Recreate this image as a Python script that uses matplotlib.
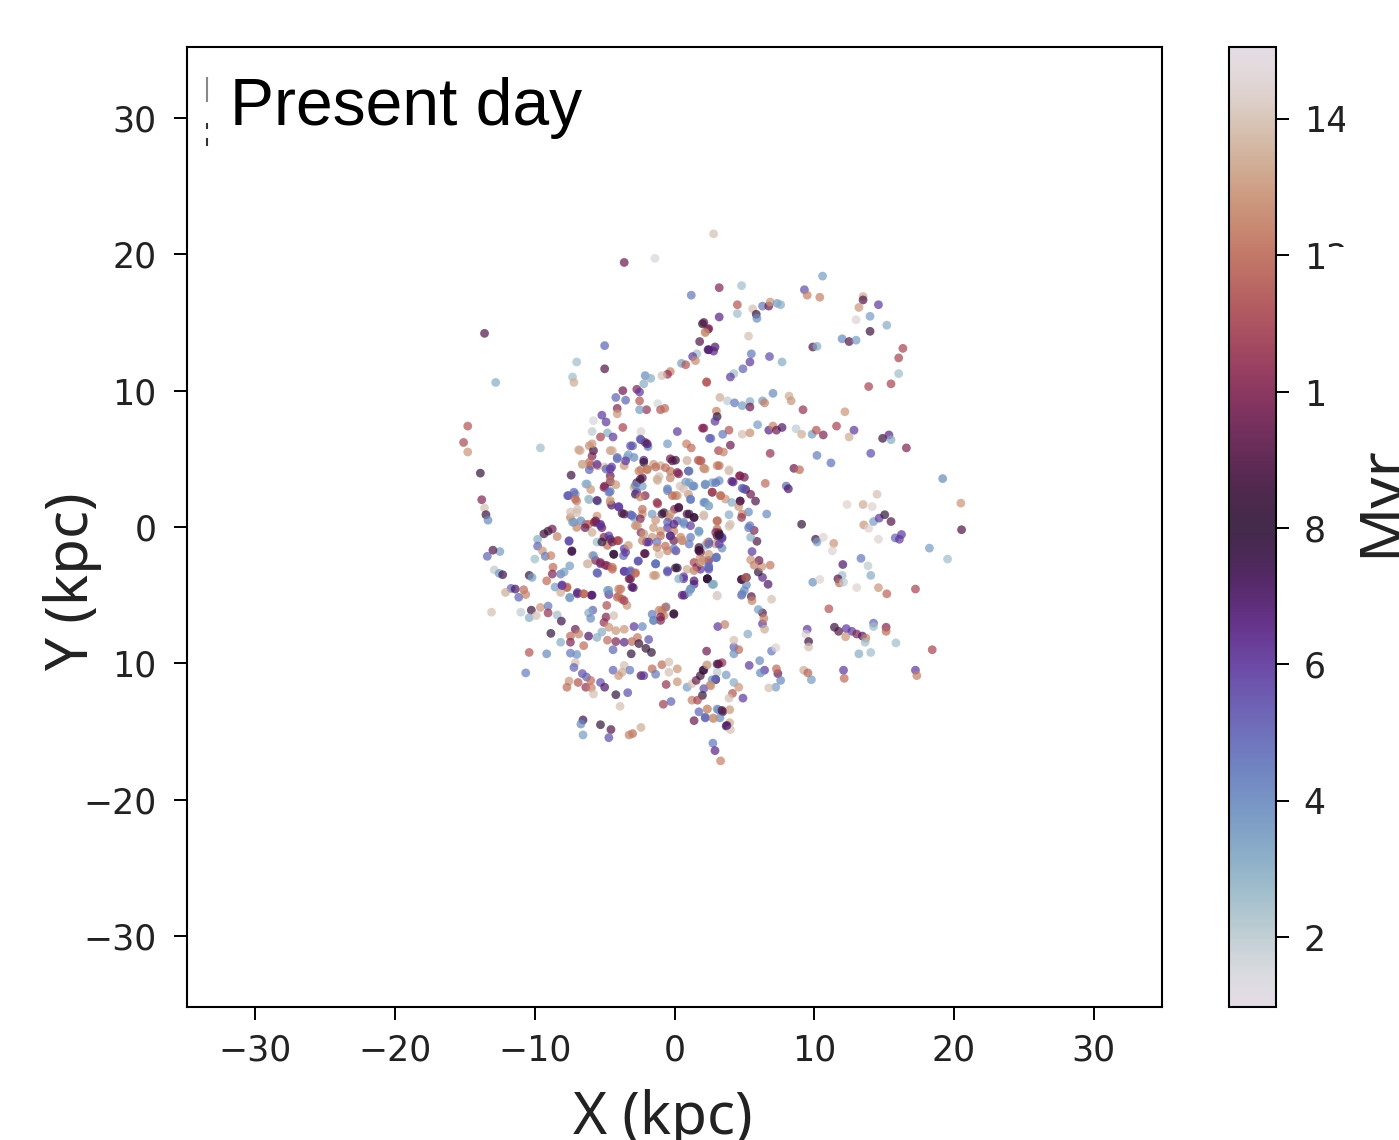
import matplotlib
matplotlib.use("Agg")
import matplotlib.pyplot as plt
from matplotlib.cm import ScalarMappable
from matplotlib.colors import Normalize
from matplotlib.lines import Line2D
from matplotlib.patches import Rectangle

# star clusters: (x kpc, y kpc, age Myr)
north_west = [
    (-3.6, 19.4, 9.5), (-1.4, 19.7, 1.5), (1.2, 17.0, 4.5), (-13.6, 14.2, 9), (2.0, 14.9, 8), (2.4, 14.5, 9.5),
    (2.2, 14.3, 12.5), (1.8, 13.6, 9), (2.4, 13.0, 7), (-5.0, 13.3, 5), (-7.0, 12.1, 2.5), (-5.0, 11.6, 9),
    (-7.3, 11.0, 2.5), (-7.2, 10.6, 13.5), (-12.8, 10.6, 3), (1.6, 12.7, 2.5), (1.3, 12.5, 6), (1.5, 12.2, 12.7),
    (0.5, 12.0, 3.5), (0.8, 11.9, 11.5), (-0.3, 11.4, 12.5), (-0.5, 11.2, 10.5), (-0.9, 11.1, 14), (-2.1, 11.1, 4),
    (-1.7, 10.9, 3), (-2.2, 10.5, 3), (2.3, 10.6, 11.5), (-2.7, 10.1, 10), (-2.5, 9.9, 6), (-3.7, 10.0, 9.5),
    (-4.2, 9.5, 5), (-3.5, 9.3, 5), (-2.5, 9.25, 11.5), (-1.2, 9.05, 1.5), (-4.1, 8.7, 10), (-2.0, 8.6, 10.5),
    (-1.0, 8.6, 11.5), (-0.7, 8.7, 12), (-2.5, 8.6, 3.5), (-4.1, 8.3, 13), (-5.2, 8.2, 6), (-4.9, 7.7, 6),
    (-5.8, 7.8, 1.5), (-3.7, 7.3, 11), (2.0, 7.25, 10), (-4.8, 6.9, 3), (-5.9, 7.0, 2), (-2.4, 7.0, 14.5),
    (0.2, 7.0, 6), (-4.4, 6.6, 6), (-5.3, 6.6, 11), (-2.4, 6.4, 6), (-2.1, 6.2, 9.5), (-1.9, 5.9, 4.5),
    (-0.5, 6.1, 3.5), (-9.6, 5.8, 2.5), (2.5, 6.5, 5), (0.86, 6.1, 12.5), (1.2, 5.8, 12), (-14.8, 7.4, 11.5),
    (-15.1, 6.2, 11.2), (-14.8, 5.5, 13), (-13.9, 3.95, 8), (-13.8, 2.0, 10), (-13.6, 1.4, 14),
    (-6.85, 5.66, 13), (-6.1, 5.95, 12.7), (-5.8, 5.6, 8.5), (-5.9, 5.2, 10), (-6.6, 4.6, 13.5), (-6.0, 4.5, 12),
    (-5.5, 4.5, 12.5), (-6.1, 4.2, 5), (-4.6, 5.6, 13), (-4.5, 4.4, 6), (-5.0, 4.4, 14), (-4.1, 5.1, 5),
    (-3.6, 4.5, 13), (-3.0, 5.95, 5), (-3.3, 5.3, 3.5), (-2.9, 5.1, 4), (-2.2, 4.9, 6.5), (-2.4, 4.2, 12.5),
    (-1.96, 4.2, 12), (-1.5, 4.6, 13), (-1.0, 4.5, 13.5), (-0.3, 5.0, 9.5), (0.07, 4.9, 8.5), (-0.3, 4.1, 12.3),
    (0.3, 3.9, 10), (0.9, 4.9, 14), (1.7, 4.9, 11.5), (1.0, 4.1, 7), (2.1, 4.3, 13), (-7.4, 3.8, 8.5),
    (-4.6, 3.75, 9.5), (-2.3, 3.6, 9.5), (-1.1, 3.7, 14), (-6.25, 3.15, 3), (-6.0, 2.75, 13), (-5.0, 3.0, 10),
    (-4.6, 3.3, 7), (-4.2, 3.1, 13), (-4.6, 2.6, 4.5), (-2.9, 2.9, 13.5), (-2.7, 3.25, 9), (-2.3, 3.0, 3.5),
    (-2.8, 2.4, 8), (-2.1, 2.3, 10), (-1.2, 3.4, 14), (-0.5, 2.8, 4.5), (0.07, 2.3, 12.5), (0.4, 3.0, 14),
    (0.8, 3.3, 3.5), (1.3, 3.0, 4), (1.0, 2.4, 13), (1.15, 2.0, 4), (0.3, 1.4, 9), (-1.2, 1.7, 11),
    (-7.6, 2.3, 6), (-7.1, 2.4, 3.5), (-7.0, 1.9, 12.5), (-6.1, 2.0, 2.5), (-5.5, 1.9, 3.5), (-4.6, 1.8, 13),
    (-4.5, 1.6, 7), (-4.0, 1.5, 6), (2.2, 1.8, 3),
]

north_east = [
    (2.8, 21.5, 14), (3.2, 17.55, 10), (4.8, 17.7, 2.5), (4.5, 16.3, 11.5), (4.5, 15.65, 2.5), (3.2, 15.4, 6.5),
    (5.6, 16.0, 14), (5.85, 15.6, 8), (5.9, 15.3, 4), (6.3, 16.2, 4.5), (6.75, 16.2, 9.5), (6.85, 16.5, 13),
    (7.35, 16.4, 3.5), (7.6, 16.3, 3), (9.3, 17.4, 5.5), (9.5, 17.0, 12.5), (10.4, 16.85, 12.5), (10.6, 18.4, 3.5),
    (13.5, 16.9, 13.5), (13.5, 16.65, 9), (13.2, 16.1, 13), (14.6, 16.3, 6), (14.0, 15.45, 3.5), (13.0, 15.2, 14.5),
    (15.2, 14.8, 3), (14.0, 14.35, 8.5), (12.0, 13.8, 4), (12.5, 13.6, 9), (13.0, 13.7, 3.5), (9.9, 13.2, 9),
    (10.2, 13.25, 3), (16.35, 13.1, 11), (16.05, 12.4, 11), (16.05, 11.25, 2.5), (15.5, 10.5, 11), (13.9, 10.3, 11),
    (5.3, 14.0, 14), (2.1, 15.0, 9), (2.45, 14.55, 10), (2.2, 14.25, 13), (2.45, 13.0, 7), (2.9, 13.2, 7),
    (2.8, 12.9, 6.5), (5.5, 12.7, 4.5), (6.8, 12.5, 5.5), (5.4, 12.1, 6), (7.7, 12.1, 3), (4.9, 11.6, 5),
    (4.25, 11.25, 2.5), (4.0, 11.0, 6), (2.3, 10.65, 11.5), (3.25, 9.5, 13.5), (3.8, 9.25, 2), (4.3, 9.1, 4.5),
    (4.85, 8.9, 3.5), (5.4, 9.2, 3), (5.4, 8.8, 9.5), (6.3, 9.25, 3.5), (6.45, 9.1, 12.5), (7.05, 9.8, 4),
    (8.2, 9.6, 13.5), (8.35, 9.25, 13), (9.2, 8.6, 10.5), (12.2, 8.45, 13), (3.0, 8.5, 12.5), (3.05, 8.1, 8),
    (2.9, 7.75, 6), (2.1, 7.25, 10), (3.9, 7.1, 11.5), (3.45, 6.8, 4.5), (2.6, 6.5, 5), (4.85, 6.8, 14),
    (5.4, 6.9, 12.8), (5.95, 7.5, 3.5), (6.75, 7.1, 6.5), (7.05, 7.4, 12.5), (7.3, 7.1, 9.5), (7.7, 7.3, 7),
    (8.7, 7.2, 2), (9.1, 6.8, 13.5), (9.85, 6.8, 3.5), (10.15, 7.1, 11.5), (10.65, 6.75, 10), (11.6, 7.4, 11),
    (12.85, 7.1, 6), (12.5, 6.6, 13.5), (14.9, 6.5, 8.5), (15.35, 6.75, 6.5), (15.5, 6.4, 3), (16.6, 5.8, 10),
    (14.05, 5.4, 5.5), (6.85, 5.4, 10.5), (10.2, 5.25, 4.3), (11.2, 4.7, 4.7), (4.0, 6.0, 9.5), (3.15, 5.6, 11),
    (3.5, 5.5, 12.5), (1.9, 4.85, 11), (2.1, 4.3, 13), (3.05, 4.5, 12.5), (3.9, 4.2, 14), (8.55, 4.3, 9.5),
    (8.95, 4.2, 12), (19.2, 3.55, 4), (4.65, 3.75, 10), (5.0, 3.65, 9.5), (4.2, 3.3, 6.5), (6.5, 3.2, 12),
    (8.0, 3.0, 5), (8.15, 2.8, 7), (2.2, 3.1, 5), (2.7, 3.25, 3.5), (3.2, 3.4, 4), (4.85, 2.85, 5),
    (5.1, 2.75, 9), (2.7, 2.55, 9.5), (3.3, 2.3, 12.5), (3.65, 2.05, 13), (4.7, 1.9, 9), (5.8, 1.9, 9),
    (5.45, 2.4, 9.5), (4.1, 1.8, 3), (2.2, 1.8, 3), (2.45, 1.55, 3), (14.5, 2.4, 14), (12.35, 1.65, 14.5),
    (13.5, 1.65, 13.5), (14.15, 1.5, 14.5), (20.5, 1.75, 13), (4.6, 1.5, 13),
]

south_east = [
    (9.1, 0.2, 8), (13.55, 0.15, 13), (13.9, -0.1, 14.5), (14.25, 0.4, 3.5), (14.65, 0.65, 6), (15.05, 0.9, 8),
    (15.5, 0.4, 9), (20.55, -0.2, 9), (10.1, -0.9, 8.5), (10.65, -0.75, 14.5), (10.2, -1.1, 3.5), (11.4, -1.2, 13),
    (11.3, -1.75, 14.5), (14.6, -0.9, 14.5), (15.8, -0.8, 5), (16.1, -0.9, 6), (16.25, -0.55, 6), (18.25, -1.55, 3.5),
    (19.55, -2.35, 2.5), (13.35, -2.3, 4.5), (12.05, -2.75, 7), (13.85, -2.85, 2), (14.05, -3.55, 3), (12.0, -3.55, 2.5),
    (11.7, -3.8, 9), (11.8, -4.1, 12), (12.1, -4.05, 2), (9.9, -4.05, 3.8), (10.4, -3.85, 14.5), (13.05, -4.45, 14.5),
    (14.6, -4.45, 13), (15.2, -4.9, 11.8), (17.25, -4.55, 11), (11.05, -6.0, 11.5), (11.45, -7.35, 8.5), (11.75, -7.65, 9),
    (12.3, -7.45, 6), (12.7, -7.65, 6), (12.25, -8.05, 13), (13.05, -7.85, 10), (13.45, -8.0, 7), (13.7, -8.15, 12.5),
    (13.65, -8.45, 2.5), (14.25, -7.05, 5), (14.25, -7.3, 2.5), (15.15, -7.35, 10), (15.15, -7.65, 12), (15.85, -8.5, 2.5),
    (13.2, -9.3, 3), (14.05, -9.2, 2.5), (18.45, -9.0, 11), (9.5, -7.5, 6), (9.4, -7.85, 14.5), (9.6, -8.4, 8.5),
    (9.6, -8.8, 14), (12.1, -10.5, 6), (12.15, -11.1, 12), (17.25, -10.5, 6), (17.35, -10.9, 12.5), (9.25, -10.5, 13.5),
    (9.55, -10.7, 11.8), (9.8, -11.2, 3.5), (7.4, -10.75, 9.5), (7.6, -11.25, 4), (7.25, -11.75, 3.5), (6.75, -11.8, 14),
    (7.3, -10.4, 12), (6.45, -10.5, 6), (6.15, -10.7, 4), (6.1, -9.8, 4), (5.35, -10.15, 6), (6.95, -9.1, 4.5),
    (7.25, -8.85, 14.5), (5.25, -7.85, 3), (4.25, -8.8, 5), (4.6, -9.0, 12), (4.25, -9.3, 3.8), (4.25, -8.3, 14),
    (2.3, -9.1, 9.5), (3.1, -7.3, 6), (3.6, -7.15, 12.5), (6.3, -7.1, 6), (6.3, -6.3, 9), (6.0, -6.05, 3.5),
    (6.4, -6.7, 12.5), (6.45, -7.5, 13.5), (5.5, -5.1, 9), (5.55, -5.4, 12.5), (6.95, -5.3, 14), (4.8, -3.85, 9),
    (5.15, -3.7, 8.5), (5.15, -4.25, 4), (5.0, -4.65, 4), (4.8, -5.0, 5), (6.3, -3.7, 6.5), (6.0, -3.3, 8),
    (6.7, -4.2, 7), (6.85, -2.8, 12.3), (6.25, -2.9, 13), (5.45, -2.4, 13), (6.05, -2.45, 9.5), (5.7, -2.8, 12.5),
    (5.55, -1.8, 6), (5.9, -1.05, 9), (5.45, -0.75, 3), (5.7, -0.25, 10), (5.4, 0.1, 4.5), (6.6, 0.95, 4),
    (5.3, 1.1, 4), (4.85, 0.95, 12.5), (4.8, 0.7, 10.5), (3.9, 0.9, 3), (3.9, 0.05, 14), (3.1, 0.45, 14),
    (2.1, 0.9, 14.5), (3.15, -0.4, 8.5), (3.05, -0.15, 12), (3.4, -0.85, 5.5), (2.95, -1.25, 13), (2.45, -1.1, 6),
    (2.2, -1.35, 3), (3.4, -1.55, 4), (1.86, -1.85, 9.5), (3.0, -2.2, 4.5), (2.45, -2.45, 10), (2.05, -2.45, 12.5),
    (2.45, -3.1, 5.5), (1.86, -3.1, 6), (2.35, -3.8, 8), (2.75, -4.2, 3), (3.05, -5.05, 14.5), (2.3, -10.15, 13),
    (2.1, -10.5, 9), (3.05, -10.05, 9), (3.4, -9.95, 10.5), (3.05, -10.65, 2), (3.7, -10.85, 3.5), (2.95, -11.2, 8.5),
    (2.7, -11.2, 4), (2.55, -11.6, 12.5), (2.1, -11.85, 5.5), (2.0, -12.35, 8), (4.25, -11.4, 3), (4.6, -11.75, 13),
    (4.15, -12.2, 11.5), (3.9, -12.55, 14), (4.9, -12.55, 6), (2.35, -13.35, 13), (3.15, -13.4, 4), (3.45, -13.55, 8.5),
    (3.95, -13.4, 13), (2.2, -13.95, 4.5), (2.75, -14.0, 13), (3.25, -14.0, 4), (3.95, -14.35, 13.5), (3.7, -14.6, 7),
    (4.0, -14.85, 14), (2.75, -15.85, 4.5), (2.9, -16.4, 6.5), (3.3, -17.15, 12.5),
]

south_west = [
    (-13.5, 0.9, 8.5), (-13.35, 0.5, 4), (-12.5, -1.8, 3.5), (-13.0, -1.7, 9), (-13.4, -2.15, 5), (-12.9, -3.15, 2),
    (-12.55, -3.4, 3.5), (-12.3, -3.5, 7.5), (-10.4, -3.55, 8), (-10.2, -3.7, 3.5), (-11.7, -4.5, 5), (-12.1, -4.8, 13.5),
    (-11.4, -4.55, 7), (-10.8, -4.6, 12), (-11.15, -5.15, 5), (-10.65, -4.95, 12.5), (-13.1, -6.25, 14), (-10.25, -6.1, 8.5),
    (-9.6, -5.9, 13), (-9.05, -5.8, 4.5), (-9.05, -6.3, 10.5), (-10.4, -6.65, 3), (-11.0, -6.25, 2), (-9.9, -6.5, 14),
    (-8.4, -6.45, 2.5), (-8.1, -6.9, 7.5), (-8.85, -7.8, 8), (-8.15, -8.45, 3), (-10.4, -9.2, 11.5), (-9.15, -9.3, 4),
    (-10.65, -10.7, 4.3), (-9.05, -0.3, 8), (-9.35, -0.5, 8.5), (-8.75, -0.15, 9.5), (-8.4, -0.7, 12.5), (-9.8, -0.9, 3),
    (-9.8, -1.4, 5), (-9.45, -1.75, 13), (-9.25, -2.15, 4.5), (-8.85, -2.1, 12.5), (-10.0, -2.35, 2.5), (-7.55, -1.05, 6),
    (-7.35, -1.75, 8), (-8.7, -2.95, 12), (-8.15, -3.45, 4.5), (-7.5, -2.85, 3.5), (-8.75, -3.45, 10), (-9.15, -3.95, 12),
    (-8.55, -4.4, 3.5), (-7.7, -4.45, 11.8), (-8.05, -4.25, 6), (-8.15, -4.8, 13.5), (-7.5, -5.2, 3.5), (-6.95, -4.9, 6.5),
    (-6.5, -4.9, 12), (-5.95, -5.0, 7), (-4.8, -4.65, 3.5), (-4.7, -4.95, 6), (-3.85, -4.55, 12), (-4.0, -5.05, 12.5),
    (-3.75, -5.3, 11.5), (-2.95, -4.45, 7), (-3.4, -5.75, 13), (-4.85, -5.75, 11.3), (-5.85, -6.1, 5), (-6.15, -6.3, 3),
    (-6.0, -6.7, 4), (-4.9, -6.6, 10), (-5.05, -7.0, 10.5), (-4.35, -6.5, 14), (-1.6, -6.4, 4.5), (-1.5, -6.85, 3.8),
    (-0.9, -6.15, 12.5), (-0.75, -6.5, 12.5), (-0.6, -5.85, 4), (-0.05, -6.4, 8.5), (-1.0, -6.85, 10), (-7.1, -7.5, 9.5),
    (-7.45, -8.0, 12), (-6.85, -7.85, 12.5), (-6.15, -8.0, 7), (-5.55, -8.1, 3), (-5.2, -7.7, 3), (-4.7, -7.35, 13),
    (-4.2, -7.6, 13), (-3.6, -7.5, 13), (-2.9, -7.3, 6), (-2.3, -7.3, 4), (-6.5, -8.7, 12), (-7.45, -8.45, 10),
    (-7.45, -9.25, 4.5), (-7.0, -9.35, 3.8), (-7.1, -9.95, 14), (-7.2, -10.3, 5), (-4.8, -8.3, 12), (-4.2, -8.4, 10),
    (-3.6, -8.45, 6.5), (-3.05, -8.4, 12), (-2.65, -8.1, 12.3), (-2.55, -8.55, 8.5), (-2.05, -8.9, 8), (-1.85, -8.25, 5.5),
    (-1.65, -9.2, 8), (-3.1, -9.3, 8), (-4.4, -9.0, 5), (-3.6, -10.15, 14), (-4.4, -10.5, 5), (-3.2, -10.5, 4.5),
    (-3.75, -10.65, 13.5), (-4.0, -10.9, 13), (-2.4, -10.9, 9), (-2.2, -10.9, 6), (-1.6, -10.4, 12), (-0.9, -10.1, 12),
    (-0.4, -9.9, 14), (0.2, -10.4, 13), (-1.35, -10.8, 4.5), (-0.6, -11.55, 10.5), (0.2, -11.35, 13), (-0.4, -10.65, 14),
    (-7.55, -11.3, 13), (-7.7, -11.75, 12), (-6.9, -11.4, 11.5), (-6.6, -10.75, 5.5), (-6.3, -11.0, 5), (-6.35, -11.75, 10.5),
    (-5.95, -11.8, 12.5), (-6.0, -11.25, 12), (-5.3, -11.4, 5.5), (-5.0, -11.75, 7), (-5.8, -12.25, 14), (-4.2, -12.3, 8),
    (-3.35, -12.15, 5.5), (-3.9, -13.15, 14), (-0.8, -13.0, 10.8), (-0.25, -12.8, 5), (-6.55, -14.15, 7.5), (-6.7, -14.45, 4),
    (-6.55, -15.25, 3.5), (-5.3, -14.5, 8), (-4.55, -14.85, 9), (-4.7, -15.45, 5.5), (-3.0, -15.15, 12), (-2.4, -14.7, 13.5),
    (-3.25, -15.25, 12.5), (0.9, -11.75, 3.5), (1.25, -11.5, 14), (1.55, -11.25, 9.5), (1.85, -10.9, 8.5), (2.05, -10.5, 8),
    (2.35, -10.1, 13.5), (3.15, -10.05, 9), (2.95, -11.15, 5), (2.6, -11.65, 13), (1.25, -12.7, 12.5), (1.65, -12.7, 11),
    (1.75, -13.55, 5), (2.35, -13.35, 13), (1.4, -14.2, 9.5), (2.2, -14.0, 5), (2.8, -14.05, 13), (3.75, -14.55, 7),
    (3.05, -13.35, 3.8), (3.4, -13.45, 9),
]

core = [
    (-7.2, 0.35, 3.5), (-7.45, 0.7, 12.5), (-7.0, -0.03, 12.5), (-6.35, 0.2, 12), (-5.65, 0.35, 6.5), (-5.55, 0.8, 13),
    (-7.0, 1.05, 14), (-5.9, -0.4, 13.5), (-5.2, -0.05, 9.5), (-5.05, -0.75, 10), (-4.6, -0.9, 8.5), (-4.1, -1.0, 11),
    (-4.8, -1.35, 12), (-5.55, -1.1, 2.5), (-3.6, -1.6, 6), (-4.35, -2.0, 8), (-3.65, -2.1, 5), (-5.9, -2.1, 14),
    (-5.65, -2.45, 10), (-5.3, -2.7, 6), (-4.8, -2.85, 10.5), (-4.45, -3.1, 12), (-6.2, -2.7, 13.5), (-5.55, -3.35, 5),
    (-3.6, -3.25, 5.5), (-3.15, -3.2, 5), (-2.8, -3.35, 12.5), (-3.15, -3.8, 9.5), (-3.75, 1.0, 8), (-3.15, 0.9, 4.5),
    (-2.3, 0.95, 13), (-2.8, 0.1, 12.5), (-2.4, -0.4, 10), (-2.9, 0.7, 3.5), (-2.0, -1.1, 7), (-2.3, -1.0, 12.5),
    (-1.6, -0.75, 13), (-1.25, -1.1, 4.5), (-0.9, 0.95, 8.5), (-0.4, 0.7, 12.5), (0.0, 1.3, 10), (0.9, 0.95, 9),
    (1.4, 0.7, 9), (0.2, 0.45, 5), (-0.5, -0.05, 6), (-1.0, -0.3, 13), (-0.05, -0.3, 12.5), (0.7, 0.2, 3.5),
    (1.15, 0.1, 6), (-0.05, -1.0, 9.5), (-0.65, -1.4, 12), (0.55, -1.0, 12), (0.1, -1.75, 6), (-2.1, -1.95, 9),
    (-2.6, -2.5, 5), (-1.35, -2.7, 3.5), (-1.5, -3.55, 13), (-0.5, -3.2, 5), (0.2, -3.0, 8), (0.9, -3.1, 13.5),
    (0.65, -3.8, 6), (1.75, -0.4, 2.5), (1.75, -1.7, 9), (1.85, -2.25, 13), (2.45, -2.0, 13), (2.95, -2.25, 4.5),
    (3.05, -0.65, 8.5), (2.35, -1.15, 13), (1.4, -2.6, 11), (2.45, -2.95, 5.5), (1.6, -2.95, 10), (2.35, -3.8, 8),
    (1.4, -4.2, 6), (1.15, -4.55, 4.5), (0.7, -5.0, 7), (1.0, -4.8, 3.5), (2.7, -4.2, 3), (3.05, -5.05, 14.5),
    (3.05, 0.45, 13), (2.1, 0.85, 14), (1.75, -0.3, 3), (-1.1, -2.0, 14),
]

# second pass over the crowded middle
core_upper = [
    (-6.75, 5.6, 13.5), (-5.9, 6.1, 13), (-6.1, 4.75, 12), (-6.6, 4.6, 13.5), (-5.55, 4.6, 6), (-4.45, 5.6, 13.5),
    (-4.1, 5.0, 4.5), (-3.4, 5.1, 3), (-3.15, 5.95, 5.5), (-3.5, 4.85, 6), (-1.95, 6.1, 7), (-2.45, 6.45, 5),
    (-2.2, 4.75, 8), (-1.95, 4.25, 12.5), (-2.55, 4.1, 12.5), (-1.35, 4.4, 12), (-2.45, 3.5, 8.5), (-2.7, 2.55, 6),
    (-2.8, 3.05, 4), (-2.45, 2.2, 12.5), (-1.25, 3.5, 13.5), (-5.05, 2.9, 10), (-4.6, 3.4, 12.5), (-4.7, 2.55, 4.5),
    (-4.6, 1.95, 13), (-4.9, 4.25, 5), (-4.6, 4.25, 6), (-7.2, 2.55, 5), (-7.65, 2.3, 5), (-7.1, 2.05, 12),
    (-6.15, 2.05, 2.5), (-5.55, 1.95, 7), (-6.35, 3.15, 3), (-3.98, 1.45, 6), (-3.6, 0.95, 9), (-3.05, 0.85, 5),
    (-2.3, 1.3, 12), (-2.45, 0.6, 10), (-1.6, 0.95, 3.5), (-1.35, 0.5, 13), (-7.45, 1.1, 14), (-6.7, 0.45, 4),
    (-7.3, 0.35, 3.5), (-5.65, 0.45, 9.5), (-5.3, 0.2, 6.5), (-6.15, 0.2, 12), (-6.95, 1.3, 14),
    (-0.15, 4.85, 9), (-0.65, 4.35, 12), (0.2, 4.0, 10), (-0.3, 3.6, 12.5), (0.9, 4.85, 14), (1.8, 4.85, 12),
    (3.2, 4.5, 12), (3.9, 4.1, 14), (2.2, 4.25, 13), (1.05, 4.1, 4), (4.7, 3.75, 10), (4.1, 3.35, 6.5),
    (1.4, 3.0, 4), (1.05, 3.25, 3.5), (2.95, 3.25, 4.5), (2.2, 3.15, 3.5), (-0.5, 2.65, 4), (0.2, 2.3, 13),
    (0.65, 2.8, 14), (1.15, 2.05, 4.5), (-0.15, 2.3, 12), (2.7, 2.55, 11), (3.3, 2.3, 12), (4.7, 1.9, 9),
    (4.95, 2.8, 5), (-1.25, 1.8, 10.5), (2.1, 1.8, 4), (2.45, 1.55, 3), (0.3, 1.45, 8.5), (1.05, 0.95, 8.5),
    (1.4, 0.7, 8), (-0.75, 1.05, 8), (-0.3, 0.95, 13), (0.65, 0.35, 4), (-0.5, 0.35, 5), (-0.05, 0.2, 6.5),
    (-1.5, -0.05, 13), (3.05, 0.45, 12), (2.1, 0.8, 14), (3.2, -0.5, 8), (3.4, -0.75, 6), (2.95, -0.4, 10),
    (1.75, -0.3, 3.5), (-0.3, -0.65, 9), (-1.0, -0.65, 12), (0.45, -0.75, 12.5), (1.15, -0.75, 4.5), (5.3, -0.05, 4.5),
    (1.75, -1.5, 8.5), (4.0, 0.2, 14),
]

core_lower = [
    (-7.55, -1.0, 5.5), (-7.35, -1.8, 7.5), (-6.4, -0.05, 9.5), (-5.75, 0.35, 10), (-5.3, 0.1, 6), (-4.7, -0.65, 6),
    (-5.2, -1.1, 8), (-4.45, -1.1, 9.5), (-4.0, -1.0, 11), (-4.35, -2.0, 8), (-3.5, -1.85, 6), (-3.3, -1.35, 13),
    (-2.65, 0.1, 13), (-2.2, -0.5, 13), (-1.85, -1.1, 6), (-2.15, -1.95, 9), (-2.6, -2.5, 5.5), (-1.35, -2.7, 5),
    (-5.3, -2.6, 10), (-5.8, -2.1, 4), (-4.95, -2.8, 10), (-4.45, -2.95, 12), (-5.5, -3.4, 5), (-3.6, -3.25, 6),
    (-3.15, -3.3, 5), (-3.25, -3.8, 9.5), (-2.8, -3.4, 12), (-6.25, -2.7, 14), (-4.7, -4.65, 3.5), (-4.0, -4.55, 12.5),
    (-4.1, -5.15, 12), (-3.6, -5.4, 11), (-3.05, -4.4, 7), (-5.9, -5.0, 7), (-6.95, -4.8, 6.5), (-6.5, -4.9, 12),
    (-7.7, -4.4, 12), (-8.05, -4.3, 6), (-7.5, -5.15, 3.5), (-7.9, -3.3, 3.5),
    (3.2, -0.6, 8), (3.2, -1.25, 6), (1.75, -1.75, 8.5), (1.05, -1.25, 4.5), (2.45, -1.25, 5), (-0.3, -0.65, 6),
    (-0.05, -1.6, 4.5), (-0.5, -1.75, 12.5), (-1.25, -1.5, 12.5), (0.55, -1.0, 13), (-1.35, -2.7, 4.5), (0.07, -3.0, 8),
    (-0.5, -3.3, 5.5), (1.4, -3.2, 12.5), (1.85, -2.6, 13), (2.45, -2.85, 4.5), (3.0, -2.25, 4.5), (2.35, -3.8, 8),
    (0.65, -3.65, 6), (0.3, -3.8, 3), (1.4, -3.95, 7), (-1.35, -3.55, 13), (1.15, -4.55, 3.5), (0.55, -5.0, 6.5),
    (2.8, -4.2, 3), (3.05, -5.0, 14.5), (4.8, -3.85, 8.5), (5.1, -3.7, 12), (4.85, -4.9, 4), (-1.5, -6.85, 4),
    (-0.65, -5.9, 12), (-1.1, -6.1, 12.5), (-1.0, -6.6, 10), (-0.05, -6.35, 8),
]

ticks_pos = [-30, -20, -10, 0, 10, 20, 30]
# the -10 on the Y axis has lost its minus in the reference
y_tick_labels = ["\u221230", "\u221220", "10", "0", "10", "20", "30"]
cbar_ticks = [2, 4, 6, 8, 10, 12, 14]

W, H = 1399, 1140


def box(x0, y0, x1, y1):
    # pixel box (y from top) to figure fractions
    return [x0 / W, 1 - y1 / H, (x1 - x0) / W, (y1 - y0) / H]


stars = north_west + north_east + south_east + south_west + core + core_upper + core_lower
x_kpc, y_kpc, age_myr = zip(*stars)

fig = plt.figure(figsize=(W / 100, H / 100), dpi=100)
ax = fig.add_axes(box(187, 47, 1162, 1007))
norm = Normalize(vmin=0.98, vmax=15.05)
ax.scatter(x_kpc, y_kpc, c=age_myr, cmap="twilight", norm=norm, s=40, marker="o", alpha=0.7, linewidths=0)
ax.set_xlim(-34.9, 34.9)
ax.set_ylim(-35.2, 35.2)
ax.set_xticks(ticks_pos)
ax.set_yticks(ticks_pos)
ax.set_yticklabels(y_tick_labels)
ax.tick_params(length=9.5, width=1.4, labelsize=25, labelcolor="#222222")
ax.tick_params(axis="x", pad=9.5)
ax.tick_params(axis="y", pad=12.5)
for spine in ax.spines.values():
    spine.set_linewidth(1.5)

cax = fig.add_axes(box(1229, 47, 1276, 1007))
cbar = fig.colorbar(ScalarMappable(norm=norm, cmap="twilight"), cax=cax, alpha=0.9)
cbar.set_ticks(cbar_ticks)
cax.tick_params(length=9.5, width=1.4, labelsize=25, pad=10.5, labelcolor="#222222")
cbar.outline.set_linewidth(1.5)

# white boxes pasted over the old labels in the source figure
for x0, y0, x1, y1 in [(1345, 90, 1399, 150), (1345, 225, 1399, 247), (1328, 247, 1399, 440),
                       (208, 74, 590, 146)]:
    fig.add_artist(Rectangle((x0 / W, 1 - y1 / H), (x1 - x0) / W, (y1 - y0) / H,
                             transform=fig.transFigure, color="white", lw=0, zorder=5))

# bits of the older text that stick out left of the "Present day" box
fig.add_artist(Line2D([207 / W, 207 / W], [1 - 78 / H, 1 - 101 / H], color="#888888", lw=1.5, zorder=6))
fig.add_artist(Line2D([207 / W, 207 / W], [1 - 124 / H, 1 - 128 / H], color="#333333", lw=1.5, zorder=6))
fig.add_artist(Line2D([207 / W, 207 / W], [1 - 139 / H, 1 - 145 / H], color="#333333", lw=1.5, zorder=6))

fig.text(230 / W, 1 - 125 / H, "Present day", family="Liberation Sans", fontsize=47.5,
         color="black", va="baseline", ha="left", zorder=7)
fig.text(663 / W, 1 - 1134 / H, "X (kpc)", family="Noto Sans", fontsize=42,
         color="#222222", va="baseline", ha="center", zorder=7)
fig.text(73 / W, 1 - 582 / H, "Y (kpc)", family="Noto Sans", fontsize=42, rotation=90,
         color="#222222", va="center", ha="center", zorder=7)
fig.text(1352 / W, 1 - 501 / H, "Myr", family="Noto Sans", fontsize=44, rotation=90,
         color="#222222", va="center", ha="left", zorder=7)

fig.savefig("out.png", dpi=100)
